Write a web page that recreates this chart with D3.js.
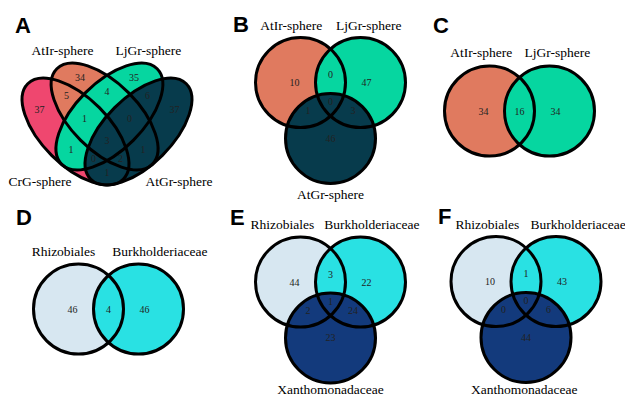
<!DOCTYPE html>
<html><head><meta charset="utf-8">
<script src="https://cdn.jsdelivr.net/npm/d3@7"></script>
<style>body{margin:0;background:#fff} svg{display:block}</style>
</head><body><svg id="c" width="625" height="396"></svg>
<script>
// ---------- data ----------
const setsA = ["CrG-sphere", "AtIr-sphere", "LjGr-sphere", "AtGr-sphere"];
const regions4 = ["A","B","C","D","AB","BC","CD","AC","BD","AD","ABC","BCD","ACD","ABD","ABCD"];
const countsA = [37, 34, 35, 37, 5, 4, 6, 1, 1, 1, 1, 0, 0, 2, 3];

const setsB = ["AtIr-sphere", "LjGr-sphere", "AtGr-sphere"];
const regions3 = ["A","B","C","AB","AC","BC","ABC"];
const countsB = [10, 47, 46, 0, 1, 3, 0];

const setsC = ["AtIr-sphere", "LjGr-sphere"];
const regions2 = ["A","B","AB"];
const countsC = [34, 34, 16];

const setsD = ["Rhizobiales", "Burkholderiaceae"];
const countsD = [46, 46, 4];

const setsE = ["Rhizobiales", "Burkholderiaceae", "Xanthomonadaceae"];
const countsE = [44, 22, 23, 3, 2, 24, 1];

const setsF = ["Rhizobiales", "Burkholderiaceae", "Xanthomonadaceae"];
const countsF = [10, 43, 44, 1, 0, 6, 0];

const colorsA = ["#EF476F", "#E07A5F", "#06D6A0", "#073B4C"];
const colorsB = ["#E07A5F", "#06D6A0", "#073B4C"];
const colorsC = ["#E07A5F", "#06D6A0"];
const colorsTaxa = ["#D7E7F1", "#29E1E3", "#133A7C"];

// ---------- layout (ggvenn-style unit coordinates) ----------
const shapes4 = [ // cx, cy, rx, ry, rotation (deg, counter-clockwise)
  [-0.7, -0.5, 0.75, 1.5, 45],
  [-0.72 + 2/3, -1/6, 0.75, 1.5, 45],
  [0.72 - 2/3, -1/6, 0.75, 1.5, -45],
  [0.7, -0.5, 0.75, 1.5, -45]
];
const k3 = (Math.sqrt(3) + 2) / 6;
const shapes3 = [[-2/3, k3, 1, 1, 0], [2/3, k3, 1, 1, 0], [0, -k3, 1, 1, 0]];
const shapes2 = [[-2/3, 0, 1, 1, 0], [2/3, 0, 1, 1, 0]];

const textPos4 = {A:[-1.5,0],B:[-0.6,0.7],C:[0.6,0.7],D:[1.5,0],AB:[-0.9,0.3],BC:[0,0.4],CD:[0.9,0.3],
  AC:[-0.8,-0.9],BD:[0.8,-0.9],AD:[0,-1.4],ABC:[-0.5,-0.2],BCD:[0.5,-0.2],ACD:[-0.3,-1.1],ABD:[0.3,-1.1],ABCD:[0,-0.7]};
const textPos3 = {A:[-0.8,0.62],B:[0.8,0.62],C:[0,-0.62],AB:[0,0.8],AC:[-0.5,0],BC:[0.5,0],ABC:[0,0.2]};
const textPos2 = {A:[-0.8,0],B:[0.8,0],AB:[0,0]};

const panels = [
  {letter:"A", ox:107, oy:109, lx:15, ly:33, sets:setsA, counts:countsA, regions:regions4, shapes:shapes4, tpos:textPos4, colors:colorsA,
   setPos:[[-1.49,-1.71],[-0.99,1.2],[0.92,1.2],[1.6,-1.71]]},
  {letter:"B", ox:330.5, oy:110.5, lx:233, ly:32, sets:setsB, counts:countsB, regions:regions3, shapes:shapes3, tpos:textPos3, colors:colorsB,
   setPos:[[-0.87,1.8],[0.85,1.8],[0,-1.97]]},
  {letter:"C", ox:519.5, oy:111, lx:433, ly:33, sets:setsC, counts:countsC, regions:regions2, shapes:shapes2, tpos:textPos2, colors:colorsC,
   setPos:[[-0.85,1.2],[0.84,1.2]]},
  {letter:"D", ox:108.5, oy:309, lx:16, ly:225, sets:setsD, counts:countsD, regions:regions2, shapes:shapes2, tpos:textPos2, colors:colorsTaxa,
   setPos:[[-1.0,1.18],[1.14,1.18]]},
  {letter:"E", ox:330.5, oy:310, lx:230, ly:225, sets:setsE, counts:countsE, regions:regions3, shapes:shapes3, tpos:textPos3, colors:colorsTaxa,
   setPos:[[-1.07,1.8],[0.92,1.8],[0,-1.87]]},
  {letter:"F", ox:526, oy:309.5, lx:438, ly:224, sets:setsF, counts:countsF, regions:regions3, shapes:shapes3, tpos:textPos3, colors:colorsTaxa,
   setPos:[[-0.86,1.8],[1.16,1.8],[-0.04,-1.87]]}
];

const S = 45; // pixels per unit
const svg = d3.select("#c");
const serif = "'Liberation Serif','Times New Roman',serif";

panels.forEach(p => {
  const x = d3.scaleLinear().domain([0, 1]).range([p.ox, p.ox + S]);
  const y = d3.scaleLinear().domain([0, 1]).range([p.oy, p.oy - S]);
  const g = svg.append("g");
  const ell = sel => sel
    .attr("cx", d => x(d[0])).attr("cy", d => y(d[1]))
    .attr("rx", d => x(d[2]) - x(0)).attr("ry", d => x(d[3]) - x(0))
    .attr("transform", d => `rotate(${-d[4]},${x(d[0])},${y(d[1])})`);
  g.append("g").selectAll("ellipse").data(p.shapes).join("ellipse").call(ell)
    .attr("fill", (d, i) => p.colors[i]).attr("stroke", "none");
  g.append("g").selectAll("ellipse").data(p.shapes).join("ellipse").call(ell)
    .attr("fill", "none").attr("stroke", "#000").attr("stroke-width", 3);
  g.append("g").selectAll("text").data(p.regions).join("text")
    .attr("x", r => x(p.tpos[r][0])).attr("y", r => y(p.tpos[r][1]))
    .attr("text-anchor", "middle").attr("dominant-baseline", "central")
    .attr("font-family", serif).attr("font-size", 10).attr("fill", "#222")
    .text((r, i) => p.counts[i]);
  g.append("g").selectAll("text").data(p.sets).join("text")
    .attr("x", (d, i) => x(p.setPos[i][0])).attr("y", (d, i) => y(p.setPos[i][1]))
    .attr("text-anchor", "middle")
    .attr("font-family", serif).attr("font-size", 13.5).attr("fill", "#000")
    .text(d => d);
  svg.append("text").attr("x", p.lx).attr("y", p.ly)
    .attr("font-family", "'Liberation Sans',Arial,sans-serif").attr("font-weight", "bold")
    .attr("font-size", 22).attr("fill", "#000").text(p.letter);
});
</script></body></html>
